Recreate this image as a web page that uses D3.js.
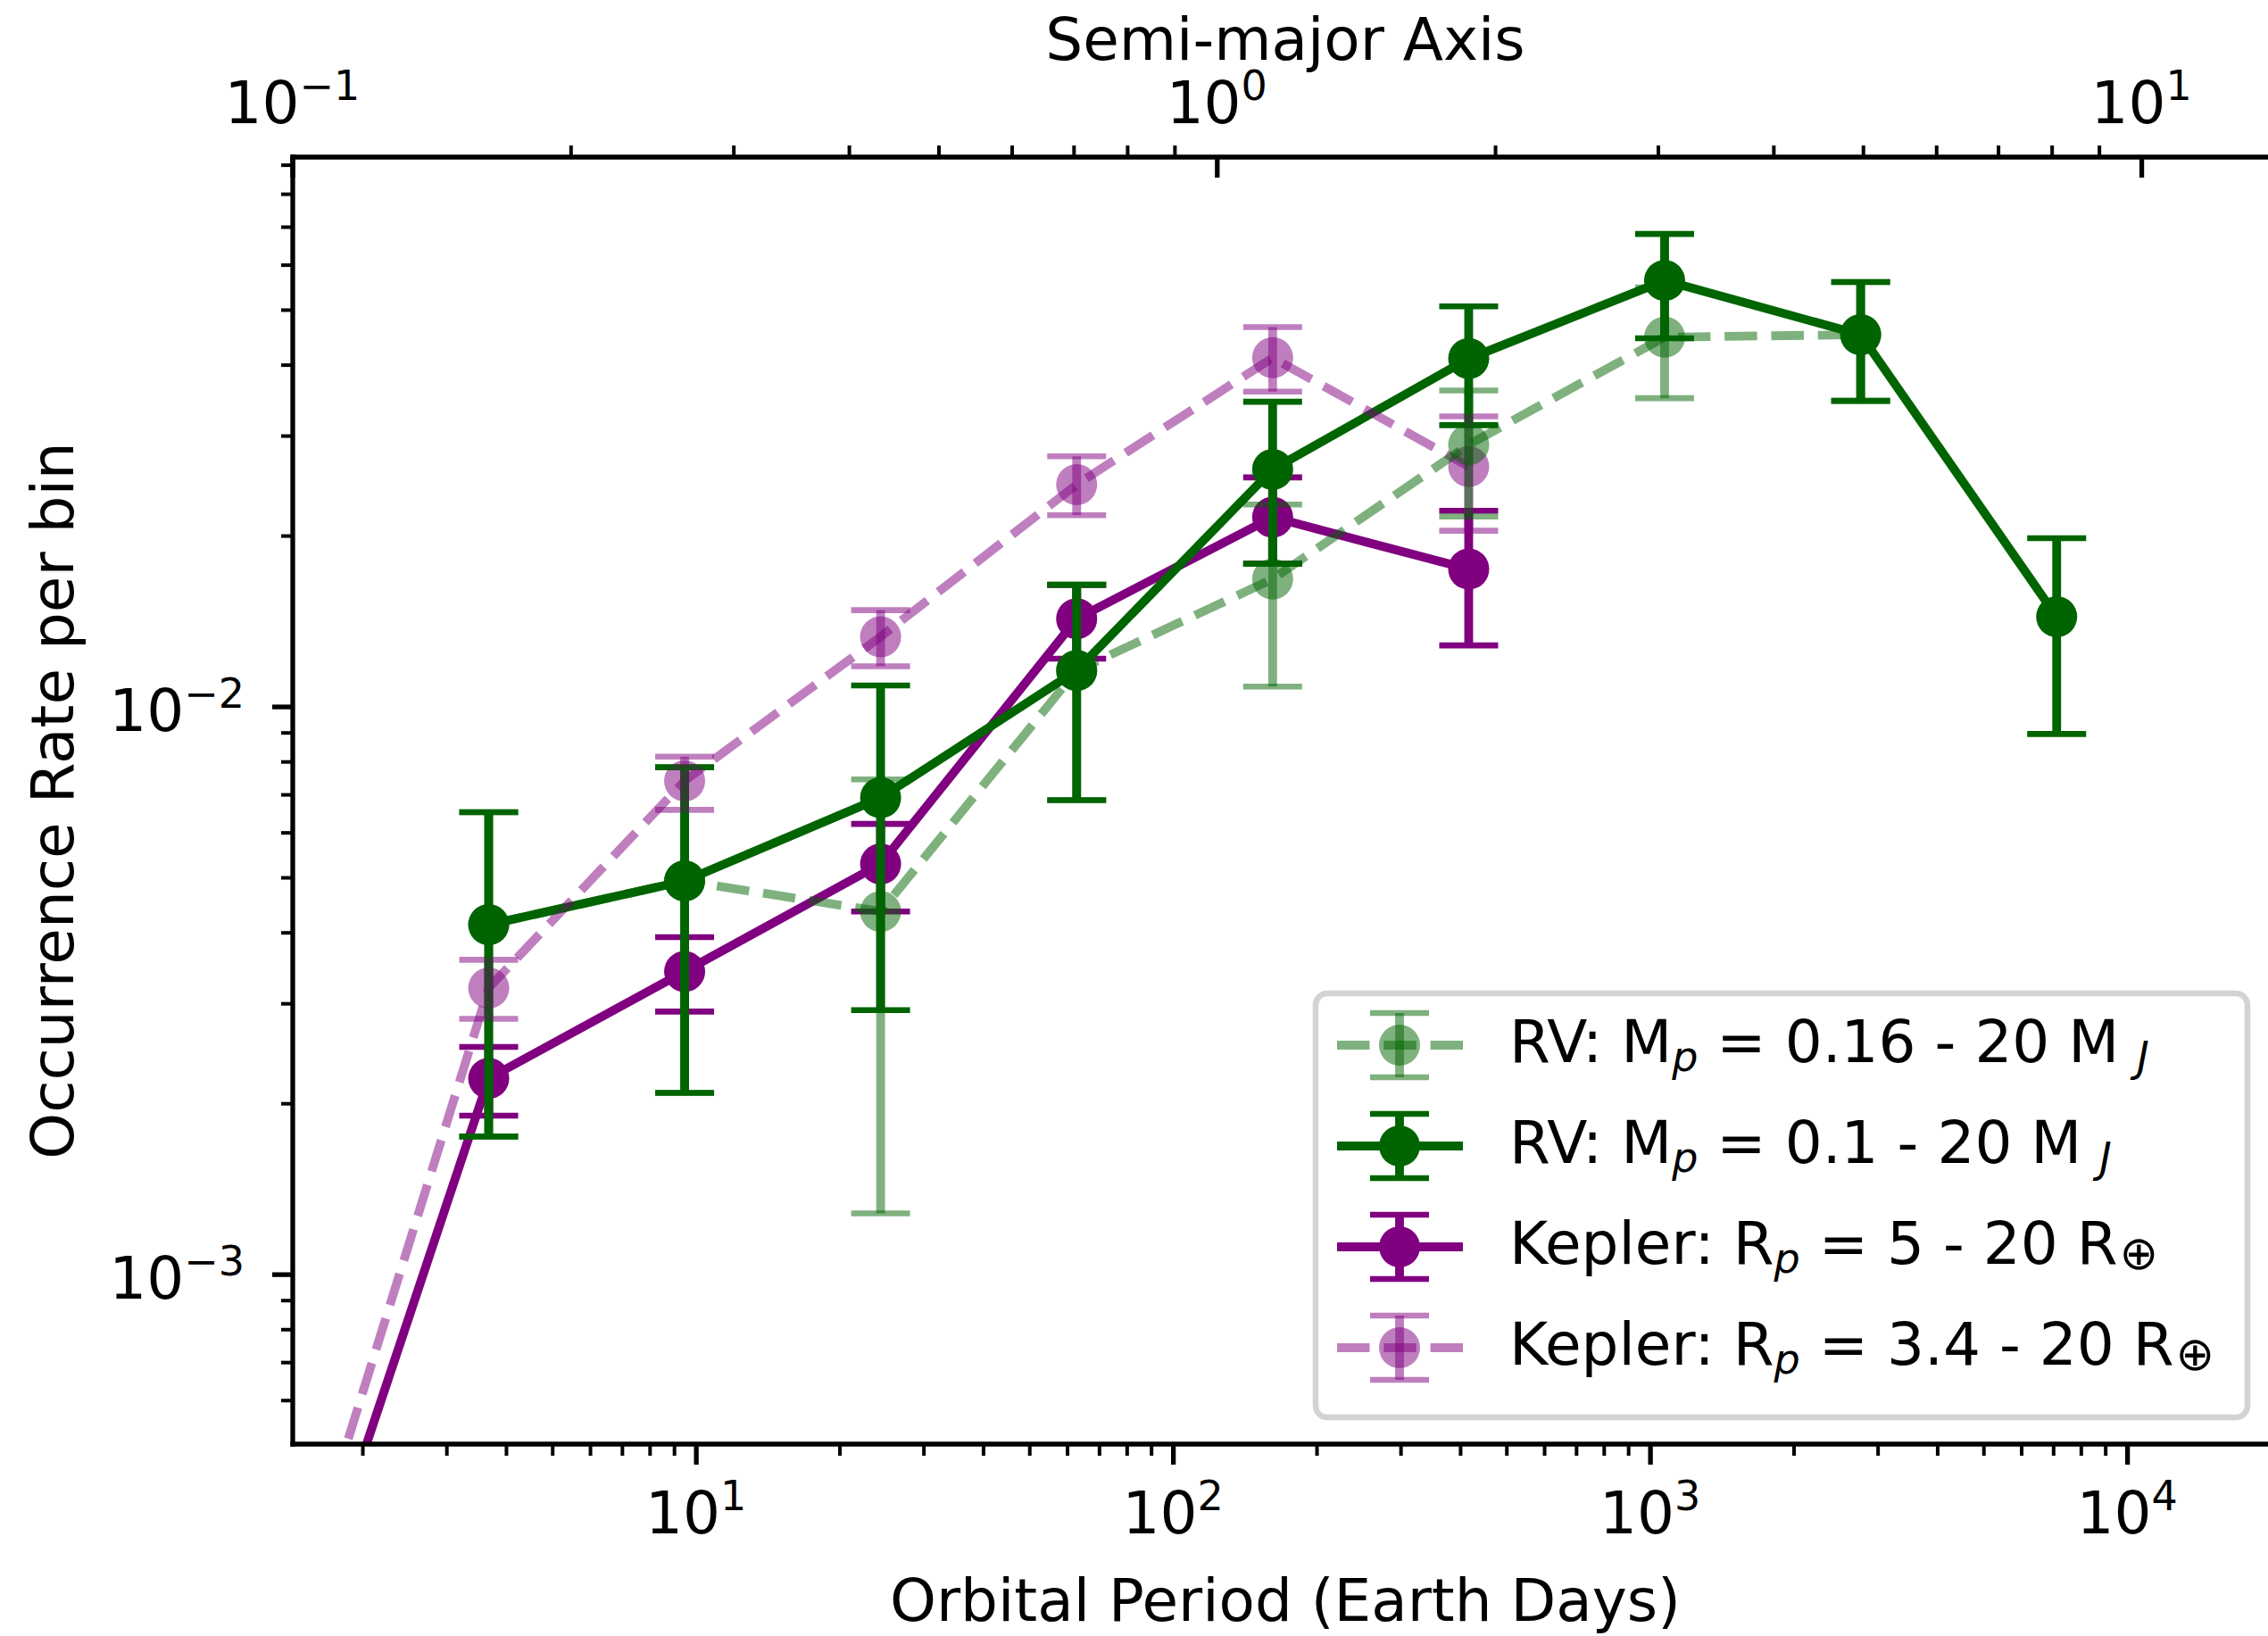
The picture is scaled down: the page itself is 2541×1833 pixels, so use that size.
<!DOCTYPE html>
<html>
<head>
<meta charset="utf-8">
<script src="https://cdn.jsdelivr.net/npm/d3@7"></script>
<style>
  body { margin: 0; background: #fff; }
  svg { display: block; }
  text { font-family: "DejaVu Sans", sans-serif; fill: #000; }
</style>
</head>
<body>
<svg id="chart" width="2541" height="1833"></svg>
<script>
// ---------------- data ----------------
const periodDays = [1.429, 3.679, 9.472, 24.39, 62.83, 161.8, 416.8, 1073, 2764, 7119];

// RV: Mp = 0.16 - 20 MJ (light green, dashed)
const rv016Rate = [null, 0.004128, 0.004928, 0.004355, 0.01157, 0.01677, 0.02892, 0.04473, 0.04518, null];
const rv016Lo   = [null, 0.001748, 0.002086, 0.001280, 0.00684, 0.01084, 0.02162, 0.03492, 0.03455, null];
const rv016Hi   = [null, 0.006512, 0.007815, 0.007439, 0.01639, 0.02269, 0.03602, 0.05473, 0.05592, null];

// RV: Mp = 0.1 - 20 MJ (dark green, solid)
const rv01Rate = [null, 0.004128, 0.004928, 0.006905, 0.01157, 0.02616, 0.04100, 0.05627, 0.04518, 0.01439];
const rv01Lo   = [null, 0.001748, 0.002086, 0.002919, 0.00684, 0.01784, 0.03130, 0.04453, 0.03455, 0.008946];
const rv01Hi   = [null, 0.006512, 0.007815, 0.01089, 0.01639, 0.03442, 0.05067, 0.06799, 0.05592, 0.01979];

// Kepler: Rp = 5 - 20 Rearth (purple, solid)
const kep5Rate = [0.000205, 0.002213, 0.003414, 0.005280, 0.01427, 0.02154, 0.01746, null, null, null];
const kep5Lo   = [0.000180, 0.001902, 0.002902, 0.004355, 0.01214, 0.01784, 0.01281, null, null, null];
const kep5Hi   = [0.000230, 0.002514, 0.003924, 0.006212, 0.01637, 0.02533, 0.02212, null, null, null];

// Kepler: Rp = 3.4 - 20 Rearth (light purple, dashed)
const kep34Rate = [0.000249, 0.003193, 0.007396, 0.01327, 0.02460, 0.04114, 0.02646, null, null, null];
const kep34Lo   = [0.000220, 0.002817, 0.006575, 0.01177, 0.02173, 0.03586, 0.02040, null, null, null];
const kep34Hi   = [0.000280, 0.003579, 0.008159, 0.01478, 0.02758, 0.04658, 0.03243, null, null, null];

// ticks
const xMajorTicks = [10, 100, 1000, 10000];
const xMinorTicks = [1, 10, 100, 1000, 10000].flatMap(d => [2,3,4,5,6,7,8,9].map(k => k * d));
const yMajorTicks = [0.001, 0.01];
const yMinorTicks = [0.0001, 0.001, 0.01].flatMap(d => [2,3,4,5,6,7,8,9].map(k => k * d));
const topMajorTicks = [0.1, 1, 10];
const topMinorTicks = [0.1, 1].flatMap(d => [2,3,4,5,6,7,8,9].map(k => k * d));

const xTitle = "Orbital Period (Earth Days)";
const topTitle = "Semi-major Axis";
const yTitle = "Occurrence Rate per bin";

// legend labels as pieces: [text, kind] (0 normal, 1 italic sub, 2 italic sub with gap, 3 symbol sub)
const legendLabels = [
  [["RV: M", 0], ["p", 1], [" = 0.16 - 20 M", 0], ["J", 2]],
  [["RV: M", 0], ["p", 1], [" = 0.1 - 20 M", 0], ["J", 2]],
  [["Kepler: R", 0], ["p", 1], [" = 5 - 20 R", 0], ["\u2295", 3]],
  [["Kepler: R", 0], ["p", 1], [" = 3.4 - 20 R", 0], ["\u2295", 3]]
];

// ---------------- layout ----------------
const W = 2541, H = 1833;
const M = { left: 328, top: 176, right: 2552, bottom: 1618 };
const FS = 66, FSsub = 46;

const x = d3.scaleLog().domain([1.429, 20700]).range([M.left, M.right]);
const y = d3.scaleLog().domain([5.02e-4, 0.09285]).range([M.bottom, M.top]);
const xTop = d3.scaleLog().domain([0.1, 14.05]).range([M.left - 0.5, M.right]);

const svg = d3.select("#chart");
svg.append("rect").attr("width", W).attr("height", H).attr("fill", "#fff");

svg.append("defs").append("clipPath").attr("id", "plotClip").append("rect")
  .attr("x", M.left).attr("y", M.top)
  .attr("width", M.right - M.left).attr("height", M.bottom - M.top);

const plot = svg.append("g").attr("clip-path", "url(#plotClip)");

const series = [
  { key: "kep5", vals: kep5Rate, lo: kep5Lo, hi: kep5Hi, color: "#800080", alpha: 1, dashed: false },
  { key: "rv01", vals: rv01Rate, lo: rv01Lo, hi: rv01Hi, color: "#006400", alpha: 1, dashed: false },
  { key: "kep34", vals: kep34Rate, lo: kep34Lo, hi: kep34Hi, color: "#800080", alpha: 0.5, dashed: true },
  { key: "rv016", vals: rv016Rate, lo: rv016Lo, hi: rv016Hi, color: "#006400", alpha: 0.5, dashed: true }
];

const LW = 9.85, CAPW = 6.6, CAP = 33, MR = 23, DASH = "36.5,15.8";

series.forEach(s => {
  const pts = periodDays.map((p, i) => ({ p, v: s.vals[i], lo: s.lo[i], hi: s.hi[i] }))
    .filter(d => d.v != null);
  const g = plot.append("g");
  g.append("path")
    .attr("d", d3.line().x(d => x(d.p)).y(d => y(d.v))(pts))
    .attr("fill", "none").attr("stroke", s.color).attr("stroke-width", LW)
    .attr("stroke-opacity", s.alpha).attr("stroke-linejoin", "round")
    .attr("stroke-dasharray", s.dashed ? DASH : null);
  g.selectAll("circle.m").data(pts).join("circle")
    .attr("cx", d => x(d.p)).attr("cy", d => y(d.v)).attr("r", MR)
    .attr("fill", s.color).attr("fill-opacity", s.alpha);
  g.selectAll("line.bar").data(pts).join("line")
    .attr("x1", d => x(d.p)).attr("x2", d => x(d.p))
    .attr("y1", d => y(d.lo)).attr("y2", d => y(d.hi))
    .attr("stroke", s.color).attr("stroke-width", LW).attr("stroke-opacity", s.alpha);
  ["lo", "hi"].forEach(k => {
    g.selectAll("line.cap" + k).data(pts).join("line")
      .attr("x1", d => x(d.p) - CAP).attr("x2", d => x(d.p) + CAP)
      .attr("y1", d => y(d[k])).attr("y2", d => y(d[k]))
      .attr("stroke", s.color).attr("stroke-width", CAPW).attr("stroke-opacity", s.alpha);
  });
});

// ---------------- axes ----------------
function styleAxis(g, w) {
  g.select(".domain").remove();
  g.selectAll(".tick line").attr("stroke", "#000").attr("stroke-width", w);
  g.selectAll(".tick text").remove();
}
const xMin = x.domain()[0], xMax = x.domain()[1];
const yMin = y.domain()[0], yMax = y.domain()[1];

svg.append("g").attr("transform", `translate(0,${M.bottom})`)
  .call(d3.axisBottom(x).tickValues(xMinorTicks.filter(v => v >= xMin && v <= xMax)).tickSize(13).tickSizeOuter(0))
  .call(g => styleAxis(g, 4));
svg.append("g").attr("transform", `translate(0,${M.bottom})`)
  .call(d3.axisBottom(x).tickValues(xMajorTicks).tickSize(23).tickSizeOuter(0))
  .call(g => styleAxis(g, 5.3));

svg.append("g").attr("transform", `translate(${M.left},0)`)
  .call(d3.axisLeft(y).tickValues(yMinorTicks.filter(v => v >= yMin && v <= yMax)).tickSize(13).tickSizeOuter(0))
  .call(g => styleAxis(g, 4));
svg.append("g").attr("transform", `translate(${M.left},0)`)
  .call(d3.axisLeft(y).tickValues(yMajorTicks).tickSize(23).tickSizeOuter(0))
  .call(g => styleAxis(g, 5.3));

svg.append("g").attr("transform", `translate(0,${M.top})`)
  .call(d3.axisTop(xTop).tickValues(topMinorTicks).tickSize(13).tickSizeOuter(0))
  .call(g => styleAxis(g, 4));
svg.append("g").attr("transform", `translate(0,${M.top})`)
  .call(d3.axisTop(xTop).tickValues(topMajorTicks).tickSize(-23).tickSizeOuter(0))
  .call(g => styleAxis(g, 5.3));

// spines
const spines = svg.append("g").attr("stroke", "#000").attr("stroke-width", 5.3).attr("stroke-linecap", "square");
spines.append("line").attr("x1", M.left).attr("x2", M.left).attr("y1", M.top).attr("y2", M.bottom);
spines.append("line").attr("x1", M.left).attr("x2", M.right).attr("y1", M.bottom).attr("y2", M.bottom);
spines.append("line").attr("x1", M.left).attr("x2", M.right).attr("y1", M.top).attr("y2", M.top);
spines.append("line").attr("x1", M.right).attr("x2", M.right).attr("y1", M.top).attr("y2", M.bottom);

// tick labels
function powLabel(sel, v) {
  const e = Math.round(Math.log10(v));
  sel.append("tspan").text("10");
  sel.append("tspan").attr("dy", -26).attr("font-size", FSsub).text(String(e).replace("-", "\u2212"));
}
xMajorTicks.forEach(v => {
  svg.append("text").attr("x", x(v)).attr("y", 1718).attr("text-anchor", "middle")
    .attr("font-size", FS).call(t => powLabel(t, v));
});
yMajorTicks.forEach(v => {
  svg.append("text").attr("x", 274).attr("y", y(v) + 27).attr("text-anchor", "end")
    .attr("font-size", FS).call(t => powLabel(t, v));
});
topMajorTicks.forEach(v => {
  svg.append("text").attr("x", xTop(v)).attr("y", 138).attr("text-anchor", "middle")
    .attr("font-size", FS).call(t => powLabel(t, v));
});

// axis titles
const cx = (M.left + M.right) / 2, cy = (M.top + M.bottom) / 2;
svg.append("text").attr("x", cx).attr("y", 1816).attr("text-anchor", "middle").attr("font-size", FS).text(xTitle);
svg.append("text").attr("x", cx).attr("y", 67).attr("text-anchor", "middle").attr("font-size", FS).text(topTitle);
svg.append("text").attr("transform", `translate(82,${cy}) rotate(-90)`).attr("text-anchor", "middle")
  .attr("font-size", FS).text(yTitle);

// ---------------- legend ----------------
const leg = svg.append("g");
leg.append("rect").attr("x", 1474).attr("y", 1113).attr("width", 1044).attr("height", 475)
  .attr("rx", 13).attr("ry", 13)
  .attr("fill", "#fff").attr("fill-opacity", 0.8)
  .attr("stroke", "#d3d3d3").attr("stroke-width", 6.5);

const legOrder = ["rv016", "rv01", "kep5", "kep34"];
const rowY = [1171, 1284, 1397, 1510];
legOrder.forEach((k, i) => {
  const s = series.find(d => d.key === k);
  const yy = rowY[i], hx = 1568;
  const g = leg.append("g");
  g.append("line").attr("x1", 1498).attr("x2", 1639).attr("y1", yy).attr("y2", yy)
    .attr("stroke", s.color).attr("stroke-width", LW).attr("stroke-opacity", s.alpha)
    .attr("stroke-dasharray", s.dashed ? DASH : null);
  g.append("circle").attr("cx", hx).attr("cy", yy).attr("r", MR)
    .attr("fill", s.color).attr("fill-opacity", s.alpha);
  g.append("line").attr("x1", hx).attr("x2", hx).attr("y1", yy - 36).attr("y2", yy + 36)
    .attr("stroke", s.color).attr("stroke-width", LW).attr("stroke-opacity", s.alpha);
  [-36, 36].forEach(o => g.append("line").attr("x1", hx - CAP).attr("x2", hx + CAP)
    .attr("y1", yy + o).attr("y2", yy + o)
    .attr("stroke", s.color).attr("stroke-width", CAPW).attr("stroke-opacity", s.alpha));

  const t = leg.append("text").attr("x", 1691).attr("y", yy + 19).attr("font-size", FS);
  let shifted = 0;
  legendLabels[i].forEach(([txt, kind]) => {
    const ts = t.append("tspan").text(txt);
    if (kind === 0) {
      if (shifted) { ts.attr("dy", -shifted); shifted = 0; }
    } else {
      const drop = kind === 3 ? 6 : 10;
      ts.attr("font-size", kind === 3 ? 52 : FSsub).attr("dy", drop);
      shifted = drop;
      if (kind === 1 || kind === 2) ts.attr("font-style", "italic");
      if (kind === 2) ts.attr("dx", 20);
      if (kind === 3) ts.attr("dx", 2);
    }
  });
});
</script>
</body>
</html>
